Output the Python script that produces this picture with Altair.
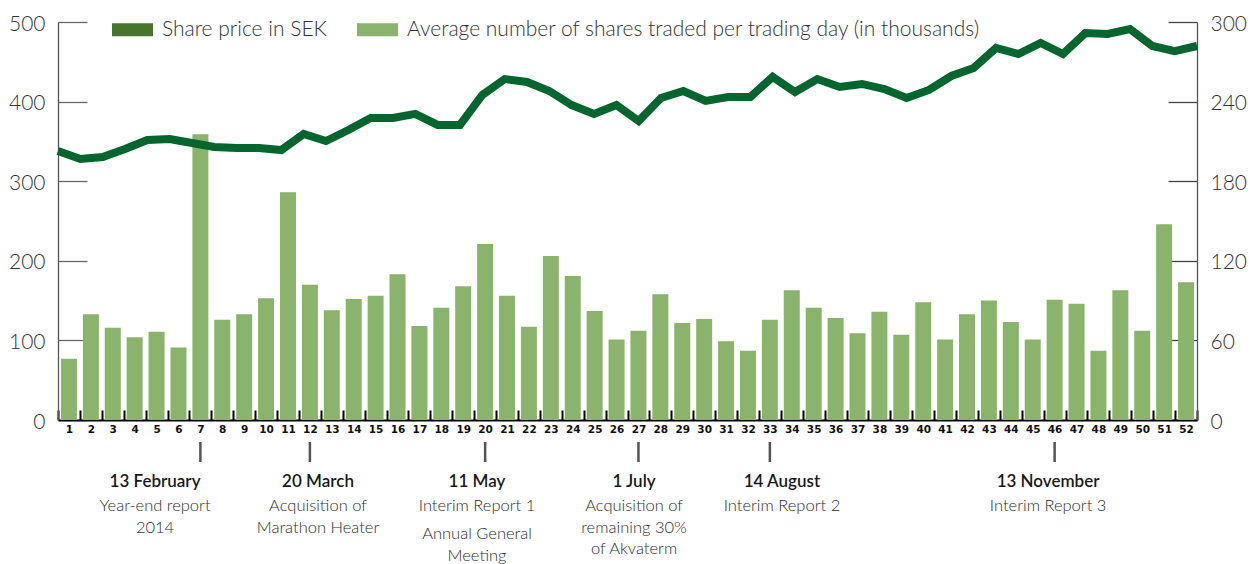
import altair as alt
import pandas as pd

# ---- data ----
weeks = list(range(1, 53))
volume = [77, 133, 116, 104, 111, 91, 359, 126, 133, 153, 286, 170, 138, 152, 156, 183,
          118, 141, 168, 221, 156, 117, 206, 181, 137, 101, 112, 158, 122, 127, 99, 87,
          126, 163, 141, 128, 109, 136, 107, 148, 101, 133, 150, 123, 101, 151, 146, 87,
          163, 112, 246, 173]
price = [202.8, 196.7, 198.2, 204.3, 211.1, 211.8, 208.8, 205.8, 205.0, 205.0, 203.5, 215.6,
         210.3, 218.6, 227.6, 227.6, 230.7, 222.4, 222.4, 245.0, 257.0, 254.8, 248.0, 237.4,
         230.7, 237.4, 225.4, 242.7, 248.0, 240.5, 243.5, 243.5, 258.6, 247.2, 257.0, 251.0,
         253.3, 249.5, 242.7, 248.8, 259.3, 265.3, 280.4, 275.9, 284.2, 275.9, 291.7, 291.0,
         294.7, 281.9, 278.1, 281.9]

price_name = "Share price in SEK"
vol_name = "Average number of shares traded per trading day (in thousands)"

left_ticks = [0, 100, 200, 300, 400, 500]
right_ticks = [0, 60, 120, 180, 240, 300]

event_weeks = [7, 12, 20, 27, 33, 46]
event_dates = ["13 February", "20 March", "11 May", "1 July", "14 August", "13 November"]
event_texts = ["Year-end report\n2014", "Acquisition of\nMarathon Heater", "Interim Report 1",
               "Acquisition of\nremaining 30%\nof Akvaterm", "Interim Report 2", "Interim Report 3"]
label_weeks = [4.93, 12.37, 19.63, 26.8, 33.55, 45.7]
extra_note = ["Annual General\nMeeting"]
extra_week = [19.63]

# ---- styling ----
W, H = 1139, 398
LINE_C = "#05652f"
PRICE_SW = "#48752c"
BAR_C = "#8ab46b"
FONT = "Lato"

df = pd.DataFrame({"week": weeks, "volume": volume, "price": price, "series": vol_name})
ev = pd.DataFrame({"week": event_weeks, "date": event_dates, "desc": event_texts,
                   "label_week": label_weeks})
ex = pd.DataFrame({"label_week": extra_week, "desc": extra_note})

rect_path = "M-1,-0.32L1,-0.32L1,0.32L-1,0.32Z"

bars = alt.Chart(df).mark_bar(width=alt.RelativeBandSize(0.73)).encode(
    x=alt.X("week:O",
            scale=alt.Scale(paddingInner=0, paddingOuter=0),
            axis=alt.Axis(title=None, labelAngle=0, domainColor="#000", domainWidth=2,
                          ticks=False, tickBand="extent", grid=True,
                          gridDash=[0, H - 10, 10, 5000], gridColor="#000", gridWidth=2,
                          labelFont="DejaVu Sans", labelFontWeight="bold", labelFontSize=10.5,
                          labelColor="#111", labelPadding=4)),
    y=alt.Y("volume:Q",
            scale=alt.Scale(domain=[0, 500], nice=False),
            axis=alt.Axis(title=None, orient="left", values=left_ticks, domainColor="#555",
                          domainWidth=1.3, ticks=False, grid=True, gridDash=[29, 5000],
                          gridColor="#666", gridWidth=1.3, labelFont=FONT, labelFontWeight=300,
                          labelFontSize=21, labelColor="#333", labelPadding=13, labelOffset=2)),
    color=alt.Color("series:N",
                    scale=alt.Scale(domain=[price_name, vol_name], range=[PRICE_SW, BAR_C]),
                    legend=alt.Legend(title=None, orient="none", legendX=54, legendY=-13,
                                      direction="horizontal", symbolType=rect_path,
                                      symbolSize=1681, symbolStrokeWidth=0, symbolOpacity=1,
                                      labelFont=FONT, labelFontWeight=300, labelFontSize=21,
                                      labelColor="#333", labelOffset=9, columnPadding=30,
                                      labelLimit=1000, padding=0)),
)

line = alt.Chart(df).mark_line(color=LINE_C, strokeWidth=8).encode(
    x=alt.X("week:Q", scale=alt.Scale(domain=[1, 52], nice=False, zero=False), axis=None),
    y=alt.Y("price:Q",
            scale=alt.Scale(domain=[0, 300], nice=False),
            axis=alt.Axis(title=None, orient="right", values=right_ticks, domainColor="#555",
                          domainWidth=1.3, ticks=False, grid=True, gridDash=[29, 5000],
                          gridColor="#444", gridWidth=1.3, labelFont=FONT, labelFontWeight=300,
                          labelFontSize=21, labelColor="#333", labelPadding=13, labelOffset=2)),
)

ann_scale = alt.Scale(domain=[0.5, 52.5], nice=False, zero=False)
markers = alt.Chart(ev).mark_rule(color="#555", strokeWidth=2.5).encode(
    x=alt.X("week:Q", scale=ann_scale, axis=None),
    y=alt.value(H + 22), y2=alt.value(H + 42))
dates = alt.Chart(ev).mark_text(font=FONT, fontWeight=600, fontSize=17, baseline="middle",
                                align="center", color="#1a1a1a").encode(
    x=alt.X("label_week:Q", scale=ann_scale, axis=None),
    y=alt.value(H + 62), text="date:N")
descs = alt.Chart(ev).mark_text(font=FONT, fontWeight=300, fontSize=16.5, baseline="top",
                                align="center", color="#2e2e2e", lineBreak="\n",
                                lineHeight=21.5).encode(
    x=alt.X("label_week:Q", scale=ann_scale, axis=None),
    y=alt.value(H + 78), text="desc:N")
extra = alt.Chart(ex).mark_text(font=FONT, fontWeight=300, fontSize=16.5, baseline="top",
                                align="center", color="#2e2e2e", lineBreak="\n",
                                lineHeight=21.5).encode(
    x=alt.X("label_week:Q", scale=ann_scale, axis=None),
    y=alt.value(H + 106), text="desc:N")

annotations = alt.layer(markers, dates, descs, extra)

chart = alt.layer(bars, line, annotations).resolve_scale(
    x="independent", y="independent"
).properties(
    width=W, height=H,
    autosize=alt.AutoSizeParams(type="none"),
    padding={"left": 58, "top": 22, "right": 61, "bottom": 144},
    background="white",
).configure_view(strokeWidth=0)

chart.save("out.html", embed_options={"renderer": "svg", "actions": False})
